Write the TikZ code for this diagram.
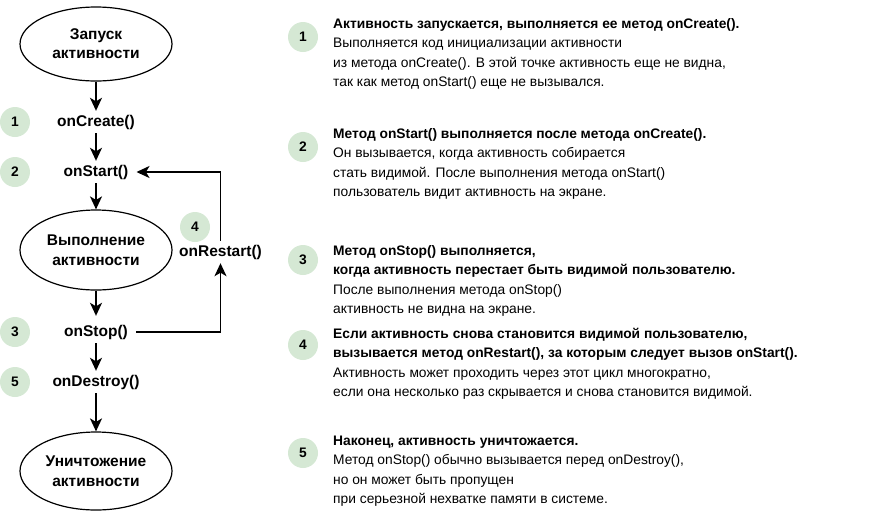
\documentclass[tikz,border=0pt]{standalone}
\usepackage{fontspec}
\setmainfont{Liberation Sans}
\usetikzlibrary{arrows.meta,shapes.geometric}
\definecolor{badgegreen}{HTML}{D5E8D4}
\begin{document}
\begin{tikzpicture}[x=1pt,y=-1pt,
  stateell/.style={draw, line width=1.2pt, ellipse, inner sep=0pt, align=center,
    font=\fontsize{15.5}{20}\selectfont\bfseries},
  lbl/.style={inner xsep=8pt, inner ysep=0pt, minimum height=22pt,
    font=\fontsize{15.5}{18}\selectfont\bfseries},
  badge/.style={circle, fill=badgegreen, minimum size=30pt, inner sep=0pt,
    font=\fontsize{13.8}{16}\selectfont\bfseries},
  desc/.style={anchor=north west, inner sep=0pt, align=left,
    font=\fontsize{13.8}{19.5}\selectfont},
  flow/.style={line width=1.6pt, -{Stealth[length=13pt,width=12pt,inset=3.5pt]}}
]
\useasboundingbox (0,0) rectangle (891,512);

% states
\node[stateell, minimum width=152pt, minimum height=74pt] (e1) at (96,44) {Запуск\\[-1pt]активности};
\node[stateell, minimum width=152pt, minimum height=80pt] (e2) at (96,250) {Выполнение\\активности};
\node[stateell, minimum width=152pt, minimum height=78pt] (e3) at (96,471) {Уничтожение\\активности};

% method labels
\node[lbl] (cr) at (96,122) {onCreate()};
\node[lbl] (st) at (96,172) {onStart()};
\node[lbl] (sp) at (96,332) {onStop()};
\node[lbl] (ds) at (96,382) {onDestroy()};
\node[lbl] (rs) at (220.5,252) {onRestart()};

% badges left
\node[badge] (b1) at (15,122) {1};
\node[badge] (b2) at (15,172) {2};
\node[badge] (b3) at (15,332) {3};
\node[badge] (b5) at (15,382) {5};
\node[badge] (b4) at (195,227) {4};

% flow arrows
\draw[flow] (e1.south) -- (cr.north);
\draw[flow] (cr.south) -- (st.north);
\draw[flow] (st.south) -- (e2.north);
\draw[flow, shorten >=5pt] (e2.south) -- (sp.north);
\draw[flow] (sp.south) -- (ds.north);
\draw[flow] (ds.south) -- (e3.north);
\draw[flow] (sp.east) -| (rs.south);
\draw[flow] (rs.north) |- (st.east);

% right badges
\node[badge] (r1) at (303,37) {1};
\node[badge] (r2) at (303,147) {2};
\node[badge] (r3) at (303,260) {3};
\node[badge] (r4) at (303,345) {4};
\node[badge] (r5) at (303,453) {5};

% descriptions
\node[desc] (d1) at (333,17.5) {\rule{0pt}{10.5pt}\textbf{Активность запускается, выполняется ее метод onCreate().}\\
Выполняется код инициализации активности\\
из метода onCreate(). В этой точке активность еще не видна,\\
так как метод onStart() еще не вызывался.};
\node[desc] (d2) at (333,127.5) {\rule{0pt}{10.5pt}\textbf{Метод onStart() выполняется после метода onCreate().}\\
Он вызывается, когда активность собирается\\
стать видимой. После выполнения метода onStart()\\
пользователь видит активность на экране.};
\node[desc] (d3) at (333,244.5) {\rule{0pt}{10.5pt}\textbf{Метод onStop() выполняется,}\\
\textbf{когда активность перестает быть видимой пользователю.}\\
После выполнения метода onStop()\\
активность не видна на экране.};
\node[desc] (d4) at (333,327.5) {\rule{0pt}{10.5pt}\textbf{Если активность снова становится видимой пользователю,}\\
\textbf{вызывается метод onRestart(), за которым следует вызов onStart().}\\
Активность может проходить через этот цикл многократно,\\
если она несколько раз скрывается и снова становится видимой.};
\node[desc] (d5) at (333,434.5) {\rule{0pt}{10.5pt}\textbf{Наконец, активность уничтожается.}\\
Метод onStop() обычно вызывается перед onDestroy(),\\
но он может быть пропущен\\
при серьезной нехватке памяти в системе.};
\end{tikzpicture}
\end{document}
